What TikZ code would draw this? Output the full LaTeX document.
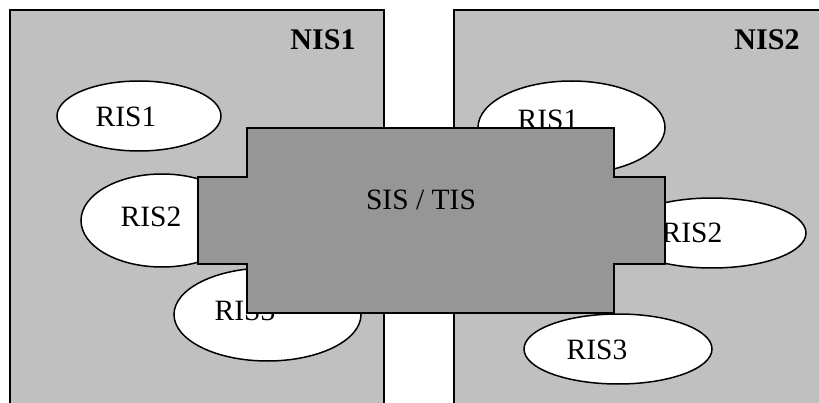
\documentclass[tikz,border=0pt]{standalone}
\usepackage{fontspec}
\setmainfont{Liberation Serif}
\usetikzlibrary{shapes.geometric}
\definecolor{nisgray}{HTML}{C0C0C0}
\definecolor{sisgray}{HTML}{969696}
\tikzset{
  nisbox/.style={fill=nisgray,draw=black,line width=1.5pt},
  risell/.style={ellipse,fill=white,draw=black,line width=1.5pt,inner sep=0pt},
  txt/.style={inner sep=0pt,font=\fontsize{29.5}{32}\selectfont},
  btxt/.style={inner sep=0pt,font=\fontsize{30}{32}\selectfont\bfseries},
  sisshape/.style={fill=sisgray,draw=black,line width=1.5pt}
}
\begin{document}
\begin{tikzpicture}[x=1pt,y=-1pt]
\useasboundingbox (0,0) rectangle (819,403);
\fill[white] (0,0) rectangle (819,403);
% NIS areas
\fill[nisgray] (10,10) rectangle (384,420);
\draw[line width=1.5pt] (10,420) -- (10,10) -- (384,10) -- (384,420);
\fill[nisgray] (454,10) rectangle (840,420);
\draw[line width=1.5pt] (454,420) -- (454,10) -- (840,10);
\node[btxt] (nis1) at (323,40) {NIS1};
\node[btxt] (nis2) at (767,40) {NIS2};
% left ellipses
\node[risell,minimum width=164pt,minimum height=70pt] (l1) at (139,116) {};
\node[txt] (l1t) at (126,117) {RIS1};
\node[risell,minimum width=162pt,minimum height=93pt] (l2) at (162,220.5) {};
\node[txt] (l2t) at (151,217) {RIS2};
\node[risell,minimum width=187pt,minimum height=93pt] (l3) at (267.5,314.5) {};
\node[txt] (l3t) at (245,311) {RIS3};
% right ellipses
\node[risell,minimum width=187pt,minimum height=93pt] (r1) at (571.5,127.5) {};
\node[txt] (r1t) at (548,120) {RIS1};
\node[risell,minimum width=188pt,minimum height=70pt] (r2) at (712,233) {};
\node[txt] (r2t) at (692,233) {RIS2};
\node[risell,minimum width=188pt,minimum height=70pt] (r3) at (618,349) {};
\node[txt] (r3t) at (597,350) {RIS3};
% SIS / TIS
\draw[sisshape] (247,128) -- (614,128) -- (614,177) -- (665,177) -- (665,264)
  -- (614,264) -- (614,313) -- (247,313) -- (247,264) -- (198,264)
  -- (198,177) -- (247,177) -- cycle;
\node[txt] (sis) at (421,200) {SIS / TIS};
\end{tikzpicture}
\end{document}
